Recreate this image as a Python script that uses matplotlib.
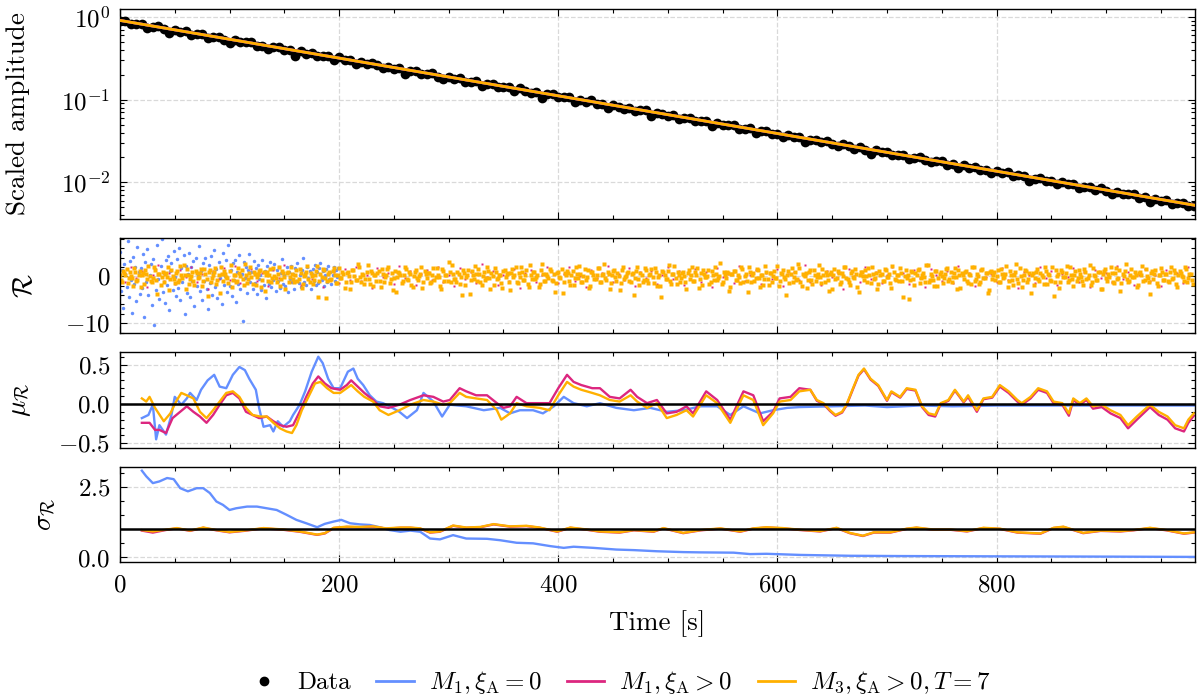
import matplotlib
import numpy as np

matplotlib.use('agg')
import matplotlib.pyplot as plt
from matplotlib.lines import Line2D
from matplotlib.ticker import MultipleLocator

plt.rcParams['font.family'] = 'serif'
plt.rcParams['font.serif'] = ['cmr10']
plt.rcParams['mathtext.fontset'] = 'cm'
plt.rcParams['axes.formatter.use_mathtext'] = True
plt.rcParams['font.size'] = 18
plt.rcParams['axes.labelsize'] = 19.5
plt.rcParams['axes.unicode_minus'] = True

c_blue = '#648FFF'
c_mag = '#DC267F'
c_orange = '#FFB000'

labels = ['Data', r'$M_1, \xi_\mathrm{A}=0$', r'$M_1, \xi_\mathrm{A}>0$',
          r'$M_3, \xi_\mathrm{A}>0, T=7$']

# fitted decay (same for all three models at this scale), read at the ends
fit_t = [0.0, 980.0]
fit_amp = [0.91, 0.0053]

# measured amplitude / fitted amplitude, one value every 5 s
amp_ratio = [
    0.98, 1.02, 0.95, 0.99, 1.01, 0.92, 0.97, 1.03, 0.96, 0.88, 1.00, 0.97, 1.02, 0.94, 0.99, 1.01, 0.93, 0.98, 1.02, 0.96,
    0.90, 1.01, 0.97, 0.99, 1.03, 0.95, 0.98, 0.92, 1.00, 1.02, 0.96, 0.99, 0.87, 1.01, 0.97, 1.02, 0.95, 0.98, 1.00, 0.93,
    1.02, 0.97, 0.99, 0.91, 1.01, 0.96, 1.03, 0.98, 0.94, 1.00, 0.97, 1.02, 0.89, 0.99, 1.01, 0.95, 0.98, 1.03, 0.96, 0.92,
    1.00, 0.98, 1.02, 0.94, 0.97, 1.01, 0.90, 0.99, 1.02, 0.96, 0.98, 1.00, 0.93, 1.03, 0.97, 0.95, 1.01, 0.88, 0.99, 1.02,
    0.96, 0.98, 1.01, 0.92, 1.00, 0.97, 1.03, 0.95, 0.99, 0.91, 1.02, 0.98, 0.96, 1.01, 0.94, 0.99, 1.02, 0.90, 0.98, 1.00,
    0.97, 1.03, 0.93, 0.99, 1.01, 0.96, 0.98, 1.02, 0.89, 1.00, 0.97, 0.99, 1.03, 0.95, 0.98, 1.01, 0.92, 0.99, 1.02, 0.96,
    0.98, 0.94, 1.01, 0.99, 1.02, 0.91, 0.97, 1.00, 0.96, 1.03, 0.98, 0.93, 1.01, 0.99, 0.95, 1.02, 0.97, 0.88, 1.00, 0.98,
    1.02, 0.96, 0.99, 1.01, 0.93, 0.98, 1.03, 0.97, 0.94, 1.00, 1.02, 0.95, 0.99, 0.91, 1.01, 0.97, 1.02, 0.96, 0.98, 0.92,
    1.00, 0.97, 1.02, 0.95, 0.99, 1.01, 0.90, 0.98, 1.03, 0.96, 0.99, 0.94, 1.01, 0.98, 1.02, 0.93, 0.97, 1.00, 0.96, 1.02,
    0.98, 0.92, 1.01, 0.97, 0.99, 1.03, 0.95, 0.98, 0.89, 1.00, 0.97, 1.02, 0.94, 0.99, 1.01, 0.96, 0.98,
]

# normalised residuals, M3 model
res_orange_even = [  # t = 0, 2, 4, ... s
    0.3, -1.2, 0.8, 1.5, -0.4, 0.1, -2.1, 0.9, -0.7, 1.1, 0.2, -1.6, 0.5, 2.2, -0.9, -0.3, 1.4, -3.8, 0.6, -0.1,
    -1.1, 0.7, 1.9, -0.5, 0.0, -1.4, 1.2, -0.8, 0.4, 2.4, -2.6, 0.3, -0.6, 1.0, -1.9, 0.8, -0.2, 1.6, -1.0, 0.5,
    -4.2, 1.3, -0.4, 0.9, -1.7, 0.2, 2.0, -0.9, 0.6, -0.3, 1.1, -2.3, 0.4, -1.2, 1.7, 0.0, -0.6, 2.7, -1.5, 0.8,
    -0.2, 1.0, -1.8, 0.5, 1.4, -0.7, -3.1, 0.9, 0.3, -1.1, 1.8, -0.4, 0.6, -2.0, 1.2, -0.1, 0.7, -1.3, 2.1, -0.5,
    0.4, -0.9, 1.5, -2.4, 0.1, 1.0, -0.6, 0.8, -1.6, 0.3, 2.3, -1.0, -0.2, 1.3, -4.6, 0.5, -0.8, 1.1, 0.2, -1.4,
    1.7, -0.3, 0.6, -1.2, 0.9, -2.8, 1.4, 0.0, -0.7, 1.9, -1.1, 0.4, -0.5, 2.5, -1.7, 0.7, 0.2, -0.9, 1.2, -2.2,
    0.5, -0.1, 1.6, -1.5, 0.8, -0.4, -3.4, 1.0, 0.3, -1.0, 2.0, -0.6, 0.9, -1.8, 0.1, 1.3, -0.8, 0.6, -2.5, 1.1,
    -0.3, 0.7, -1.3, 1.8, -0.2, 0.4, -2.0, 1.5, -0.9, 0.2, 3.1, -1.2, 0.6, -0.5, 1.0, -1.6, -4.0, 0.8, -0.1, 1.4,
    -0.7, 0.3, 2.2, -1.0, 0.5, -1.9, 0.9, -0.4, 1.2, -2.7, 0.0, 1.7, -0.6, 0.4, -1.4, 1.1, -0.2, 0.8, -3.0, 1.5,
    0.2, -1.1, 0.7, 1.9, -0.8, 0.3, -1.7, 2.4, -0.5, 0.9, -0.1, -2.2, 1.3, 0.6, -1.0, 0.1, 1.6, -0.7, 0.5, -1.5,
    1.0, -0.4, -3.6, 0.8, 1.2, -0.9, 0.4, -1.8, 2.0, -0.3, 0.6, -1.2, 1.5, -0.1, -2.4, 0.9, 0.2, -0.6, 1.8, -1.3,
    0.3, 2.6, -0.8, 0.5, -1.5, 1.1, -0.2, 0.7, -2.9, 1.4, -0.6, 0.0, 1.0, -1.1, 0.8, -0.4, 2.1, -1.9, 0.4, -0.7,
    1.3, -1.4, 0.6, -0.1, 1.7, -2.1, 0.2, -4.4, 0.9, -0.5, 1.2, -0.9, 0.5, 2.3, -1.6, 0.3, -0.3, 1.0, -1.2, 0.7,
    -0.6, 1.9, -1.0, 0.4, -2.5, 0.8, 1.4, -0.2, 0.1, -1.7, 1.1, -0.8, 0.6, -0.4, 2.8, -1.3, 0.2, 0.9, -3.2, 0.5,
    1.2, -0.7, 0.3, -1.5, 1.6, 0.0, -0.9, 2.0, -1.1, 0.7, -0.3, 1.3, -2.3, 0.4, -0.6, 1.0, -1.8, 0.8, 0.1, -0.4,
    2.2, -1.0, 0.5, -0.2, -3.9, 1.1, 0.6, -1.3, 0.9, -0.5, 1.7, -2.0, 0.3, 0.8, -0.7, 1.4, -1.6, 0.2, -0.1, 2.5,
    -1.4, 0.4, 1.0, -0.8, 0.6, -2.6, 1.5, -0.3, 0.7, -1.1, 0.1, 1.9, -0.6, -1.9, 1.2, -0.4, 0.5, -3.3, 0.9, 0.0,
    1.3, -1.2, 0.3, 2.1, -0.5, 0.8, -1.7, 0.2, -0.9, 1.6, -0.2, 0.6, -2.4, 1.0, -0.7, 0.4, 1.8, -1.0, 0.1, -0.3,
    -4.8, 1.1, -0.6, 0.7, 1.4, -1.5, 0.3, -0.1, 2.4, -1.3, 0.5, -0.8, 1.2, -2.1, 0.6, 0.0, -0.4, 1.5, -1.0, 0.9,
    -0.2, 1.7, -2.8, 0.4, 0.8, -0.6, 1.1, -1.4, 0.2, 2.0, -0.9, 0.5, -1.7, 1.3, -0.3, 0.7, -3.5, 0.9, -0.5, 1.0,
    0.1, -1.1, 1.6, -0.4, 0.6, -2.2, 1.2, -0.7, 0.3, 2.7, -1.5, 0.0, -0.8, 1.4, -1.2, 0.8, 0.2, -1.9, 1.0, -0.5,
    0.7, -0.2, 1.9, -1.6, 0.4, -0.9, -4.1, 1.3, 0.5, -1.3, 0.9, -0.1, 2.2, -0.7, 0.3, -2.0, 1.1, -0.4, 0.6, -1.0,
    1.5, -0.6, 0.2, -1.8, 1.7, 0.1, -0.8, 0.9, -2.7, 1.2, -0.3, 0.5, 2.0, -1.2, 0.7, -0.5, 1.3, -1.5, 0.0, 2.6,
    -1.1, 0.4, -0.2, 1.0, -2.3, 0.8, 0.3, -0.9, 1.6, -0.4, -3.7, 1.1, 0.6, -1.4, 0.2, 1.8, -0.7, 0.5, -1.0, 0.9,
    -0.5, 1.4, -1.7, 0.3, 0.7, -0.2, 2.1, -1.2, 0.6, -0.8,
]
res_orange_odd = [  # t = 1, 3, 5, ... s
    -0.8, 1.1, 0.2, -1.5, 0.9, -0.3, 1.8, -1.0, 0.4, -2.3, 0.7, 1.3, -0.5, 0.0, -1.2, 2.0, -0.7, 0.6, -1.8, 1.0,
    0.5, -0.2, -2.9, 1.4, -0.6, 0.8, -1.1, 2.2, -0.4, 0.3, 1.6, -1.7, 0.1, -0.9, 1.2, -0.3, 0.7, -2.1, 1.5, -0.6,
    0.9, -1.3, 0.4, 1.7, -0.8, -3.5, 0.6, 1.1, -0.2, -1.4, 2.5, -0.7, 0.3, -1.0, 0.8, 1.3, -1.9, 0.2, -0.5, 1.9,
    -1.6, 0.6, -0.1, 1.2, -2.2, 0.9, 0.4, -0.9, 1.5, -0.4, 0.1, -1.3, 2.1, -0.6, 0.7, -2.7, 1.0, -0.2, 0.5, -1.1,
    1.4, -0.5, 0.8, -1.7, 0.3, 2.3, -1.2, 0.0, -0.8, 1.1, -4.3, 0.6, 1.6, -0.3, -1.0, 0.9, -0.6, 1.8, -1.5, 0.2,
    -0.4, 1.0, -2.4, 0.7, 0.1, -1.1, 1.4, -0.7, 2.6, -0.2, 0.5, -1.6, 0.9, -0.5, 1.2, -2.0, 0.3, 0.8, -0.9, 1.6,
    -1.3, 0.4, 2.0, -0.6, -3.0, 1.1, -0.1, 0.7, -1.4, 0.2, 1.5, -0.8, 0.6, -2.2, 1.0, -0.4, 0.0, 1.9, -1.1, 0.5,
    0.8, -1.5, 0.3, -0.7, 1.7, -0.2, -2.6, 1.2, 0.4, -1.0, 0.9, 2.4, -0.5, -1.3, 0.6, -0.1, 1.3, -1.8, 0.2, -3.8,
    1.1, -0.6, 0.5, 1.6, -1.2, 0.1, -0.8, 2.1, -0.3, 0.7, -1.9, 1.0, -0.4, 0.3, -2.5, 1.4, 0.6, -1.1, 0.8, -0.2,
    1.9, -1.4, -0.1, 0.9, -0.7, 1.3, -2.3, 0.4, 1.0, -0.5, 0.2, -1.6, 2.7, -0.9, 0.6, -0.3, 1.2, -1.0, -3.3, 0.7,
    -0.2, 1.5, -1.1, 0.3, 0.8, -1.8, 1.1, -0.4, 0.5, 2.2, -1.3, 0.0, -0.7, 1.4, -2.0, 0.9, -0.6, 0.2, 1.7, -1.2,
    0.6, -0.3, 1.0, -2.6, 0.4, 1.3, -0.9, 0.1, -1.5, 2.0, -0.2, 0.8, -1.0, 0.5, -4.0, 1.2, -0.5, 0.7, -1.3, 1.8,
    -0.8, 0.3, 1.6, -1.4, 0.9, -0.1, -2.1, 1.1, 0.2, -0.6, 2.4, -1.7, 0.5, -0.3, 1.0, -1.1, 0.7, 0.0, -2.8, 1.3,
    0.4, -1.0, 0.9, 1.7, -0.5, -1.9, 0.6, -0.2, 1.4, -1.2, 0.3, 2.1, -0.8, 0.1, -1.6, 1.0, -0.4, 0.8, -2.3, 0.5,
    1.2, -0.7, -0.1, 1.9, -1.3, 0.6, -3.4, 0.9, 0.4, -0.9, 1.5, -0.3, 0.2, -1.8, 2.3, -0.6, 0.7, -1.1, 1.1, -0.4,
    -2.0, 0.8, 1.3, -0.5, 0.3, -1.5, 1.7, -0.2, -0.8, 2.6, -1.2, 0.5, 0.0, -2.4, 1.0, -0.7, 1.4, -1.0, 0.6, -0.1,
    1.6, -1.1, 0.4, -3.1, 0.9, 0.2, -0.6, 1.2, -1.7, 0.7, 2.0, -0.4, -1.3, 0.8, -0.2, 1.5, -2.2, 0.3, 0.9, -0.8,
    0.1, 1.8, -1.4, 0.6, -0.3, -2.7, 1.1, 0.5, -0.9, 1.4, -0.1, -1.5, 2.2, -0.6, 0.3, -1.0, 0.8, -4.5, 1.3, 0.2,
    -0.7, 1.0, -1.9, 0.4, 1.6, -0.4, 0.7, -1.2, 2.5, -0.8, 0.1, -2.0, 1.2, -0.3, 0.9, -1.4, 0.5, 1.8, -0.6, -1.1,
    0.8, -0.2, 1.4, -2.5, 0.3, 1.0, -0.9, 0.6, -1.6, 2.1, -0.5, 0.0, -1.2, 1.5, -0.4, 0.7, -2.9, 1.1, 0.2, -0.7,
    1.3, -1.3, 0.5, -0.1, 2.3, -1.0, 0.4, -1.8, 0.9, -0.6, 1.7, -2.2, 0.2, 1.1, -0.5, -3.6, 0.8, -0.3, 1.6, -0.9,
    0.3, -1.7, 1.2, 0.6, -0.8, 1.9, -1.1, 0.0, -2.4, 1.4, -0.2, 0.7, -1.3, 2.0, -0.6, 0.4, -1.0, 1.3, -0.1, -1.9,
    0.9, -0.4, 2.4, -1.2, 0.2, -0.7, 1.0, -2.6, 0.5, 1.5, -0.9, -0.1, 0.8, -1.5, 1.8, -0.3, -3.2, 0.6, 1.1, -0.6,
    -1.0, 1.6, -0.2, 0.4, -1.9, 0.9, 2.2, -0.8, 0.1, -1.3, 0.7, -0.5, 1.4, -2.1, 0.3, 1.0, -0.7, 0.5, -1.2, 1.9,
    -0.4, 0.8, -2.3, 1.2, 0.0, -0.9, 1.5, -0.3, 0.6, -1.6,
]
res_blue = [  # every 1 s, first 200 s (later ones hide under the others)
    5.2, -3.1, 1.4, -6.8, 2.7, 0.5, -2.2, 7.6, -4.5, 3.3, -0.8, -7.9, 4.1, -1.6, 2.0, -5.3, 6.2, 0.9, -3.7, 1.8,
    -2.5, 4.8, -8.6, 3.0, -1.1, 5.9, -4.0, 0.4, 2.6, -6.1, 3.8, -10.4, 1.5, -2.9, 6.7, -0.6, -4.8, 2.2, 7.9, -3.4,
    0.8, -5.6, 3.5, -1.9, 4.4, -7.2, 1.1, 2.9, -3.0, 5.5, -0.2, -4.1, 3.7, -2.4, 6.0, -5.0, 1.7, -1.3, 4.6, -8.1,
    2.3, -3.6, 0.6, 5.1, -4.4, 1.9, -1.0, 3.2, -6.3, 4.0, -2.0, 0.3, 6.4, -3.2, 1.2, -5.1, 2.8, -0.9, 3.9, -2.7,
    -6.9, 2.5, -1.5, 4.3, -3.9, 0.7, 5.7, -2.3, 1.6, -4.7, 3.1, -0.4, 2.0, -5.8, 4.9, -1.8, 0.1, 3.4, -3.3, 6.6,
    -2.1, 1.3, -4.2, 2.9, -0.7, 3.6, -5.4, 1.0, -1.7, 4.5, -2.8, 0.5, -9.5, 3.0, -0.3, 2.1, -3.5, 1.4, 4.7, -1.2,
    0.9, -2.6, 3.3, -1.4, 1.8, -3.8, 2.4, -0.6, 0.2, -2.9, 3.5, -1.9, 1.1, -4.6, 2.2, 0.4, -1.6, 3.0, -2.2, 1.5,
    -0.8, 2.6, -3.1, 1.3, -1.0, 2.0, -2.5, 0.7, 3.7, -1.7, 0.3, -2.0, 1.9, -3.4, 1.0, -0.5, 2.3, -1.3, 0.6, -2.7,
    1.7, -0.9, 2.8, -1.5, 0.2, -2.3, 1.4, 3.9, -1.1, 0.8, -1.8, 2.1, -0.4, 1.2, -2.6, 0.5, 1.6, -1.0, 2.5, -1.9,
    0.9, -1.4, 1.8, 2.9, -0.7, 1.1, -2.0, 0.4, 1.5, -1.2, 2.2, -0.6, 1.0, -1.6, 0.3, 2.0, -0.9, 1.3, -0.2, 1.7,
]
res_mag = [  # every 5 s
    0.6, -1.3, 1.9, -0.4, 1.1, -2.2, 0.3, 2.4, -0.9, 0.8, -1.7, 1.4, -0.2, 2.0, -1.1, 0.5, -2.6, 1.2, -0.6, 1.7,
    -0.8, 2.2, -1.5, 0.1, 1.6, -0.9, 0.7, -2.0, 1.3, -0.3, 2.5, -1.2, 0.4, -1.8, 1.0, -0.5, 1.9, -2.3, 0.6, 0.9,
    -1.4, 1.5, -0.7, 2.1, -1.0, 0.2, -2.5, 1.8, -0.1, 0.8, -1.6, 2.3, -0.4, 1.1, -1.9, 0.5, 1.4, -0.8, 2.0, -1.2,
    0.3, -2.1, 1.7, -0.6, 0.9, -1.4, 2.6, -0.2, 1.2, -1.8, 0.4, -0.9, 1.6, -2.4, 0.7, 1.3, -1.1, 0.2, 2.1, -0.7,
    -1.5, 0.6, 1.9, -1.0, 0.1, -2.2, 1.4, -0.3, 0.8, 2.3, -1.3, 0.5, -0.8, 1.7, -2.0, 1.0, -0.4, 1.2, -1.7, 0.3,
    2.0, -0.6, 1.1, -1.9, 0.4, 1.5, -1.2, 0.9, -2.3, 1.8, -0.1, 0.6, -1.4, 2.2, -0.9, 0.2, 1.3, -1.6, 0.7, -0.5,
    1.6, -2.1, 0.5, 1.0, -0.7, 2.4, -1.3, 0.3, -1.8, 1.2, -0.2, 0.8, -2.6, 1.5, 0.0, -1.1, 1.9, -0.6, 0.9, -1.5,
    0.4, 2.1, -1.0, 0.7, -1.7, 1.3, -0.3, -2.2, 1.6, 0.2, -0.9, 1.1, -1.4, 2.3, -0.5, 0.8, -2.0, 1.4, -0.2, 0.6,
    -1.2, 1.8, -0.8, 0.5, -2.4, 1.0, 0.3, -1.5, 2.0, -0.4, 1.2, -1.9, 0.6, -0.1, 1.7, -1.1, 0.9, -2.2, 1.4, -0.3,
    0.7, -1.3, 2.2, -0.6, 1.0, -1.8, 0.4, 1.5, -0.9, 0.2, -2.1, 1.3, -0.5, 0.8, -1.4, 1.9,
]

# rolling mean of the residuals
mu_t_blue = [20, 26, 30, 33, 36, 42, 47, 50, 56, 61, 64, 70, 74, 80, 86, 91, 97, 103, 109, 114,
             118, 124, 127, 131, 137, 140, 144, 149, 155, 158, 164, 169, 175, 181, 185, 190, 195, 201, 208, 213,
             217, 222, 228, 234, 240, 246, 255, 262, 271, 277, 286, 294, 301, 316, 332, 347, 356, 365, 377, 386,
             396, 405, 414, 426, 438, 453, 469, 484, 499, 514, 530, 545, 557, 569, 584, 596, 609, 620, 650, 680,
             700, 730, 760, 800, 850, 900, 950, 980]
mu_blue = [-0.18, -0.14, -0.01, -0.45, -0.27, -0.39, -0.14, 0.09, -0.01, 0.07, 0.14, 0.05, 0.18, 0.30, 0.37, 0.22, 0.20, 0.37, 0.47, 0.43,
           0.32, 0.18, -0.05, -0.29, -0.27, -0.35, -0.22, -0.29, -0.22, -0.14, -0.01, 0.16, 0.41, 0.60, 0.52, 0.32, 0.20, 0.20, 0.41, 0.45,
           0.32, 0.24, 0.11, 0.03, 0.01, -0.03, -0.10, -0.18, -0.08, 0.14, 0.03, -0.16, -0.01, -0.03, -0.08, -0.05, -0.12, -0.08, -0.08, -0.12,
           -0.03, 0.09, 0.01, -0.03, 0.01, -0.05, -0.08, -0.05, -0.10, -0.08, -0.03, -0.03, -0.14, -0.03, -0.12, -0.08, -0.05, -0.04, -0.03, -0.02,
           -0.04, -0.02, -0.03, -0.02, -0.02, -0.02, -0.02, -0.02]

mu_t_mag = [20, 27, 32, 36, 42, 48, 55, 61, 67, 73, 79, 85, 91, 97, 103, 109, 115, 121, 127, 134,
            140, 146, 152, 158, 164, 170, 176, 181, 187, 193, 201, 207, 211, 217, 223, 231, 237, 245, 255, 265,
            277, 286, 295, 301, 310, 316, 325, 335, 344, 350, 356, 362, 371, 383, 392, 400, 408, 414, 421, 431,
            438, 447, 456, 466, 472, 481, 490, 499, 508, 517, 523, 535, 545, 557, 569, 578, 587, 596, 602, 612,
            620, 630, 636, 642, 648, 653, 659, 663, 669, 674, 679, 685, 692, 700, 704, 712, 718, 726, 732, 738,
            744, 749, 756, 762, 770, 774, 782, 788, 796, 803, 811, 819, 823, 831, 838, 846, 852, 860, 866, 870,
            876, 882, 888, 896, 904, 913, 920, 928, 940, 948, 956, 963, 971, 975, 980]
mu_mag = [-0.24, -0.24, -0.33, -0.33, -0.37, -0.18, -0.10, -0.03, -0.10, -0.16, -0.24, -0.14, -0.01, 0.11, 0.14, 0.07, -0.10, -0.14, -0.18, -0.16,
          -0.22, -0.27, -0.29, -0.27, -0.10, 0.09, 0.26, 0.35, 0.26, 0.20, 0.18, 0.24, 0.30, 0.22, 0.14, 0.05, -0.03, -0.05, -0.01, 0.05,
          0.11, 0.09, 0.03, 0.05, 0.20, 0.16, 0.11, 0.11, 0.01, -0.05, -0.03, 0.09, 0.01, 0.01, 0.01, 0.20, 0.37, 0.28, 0.24, 0.20,
          0.20, 0.09, 0.07, 0.18, 0.09, 0.01, 0.05, -0.12, -0.10, -0.03, -0.12, 0.16, 0.05, -0.20, 0.16, 0.11, -0.22, -0.10, 0.07, 0.09,
          0.20, 0.18, 0.04, 0.00, -0.09, -0.15, -0.11, -0.02, 0.19, 0.36, 0.44, 0.31, 0.23, 0.04, 0.15, 0.08, 0.19, 0.17, -0.04, -0.14,
          -0.16, 0.00, 0.04, 0.17, 0.02, 0.09, -0.10, 0.06, 0.08, 0.22, 0.14, 0.03, -0.01, 0.07, 0.18, 0.14, 0.01, -0.01, -0.15, 0.05,
          -0.01, 0.05, -0.06, -0.04, -0.12, -0.18, -0.31, -0.20, -0.04, -0.14, -0.20, -0.31, -0.35, -0.24, -0.15]

mu_t_orange = [20, 24, 27, 32, 40, 46, 52, 56, 61, 67, 73, 79, 85, 91, 97, 103, 109, 115, 121, 128,
               134, 140, 146, 152, 157, 161, 166, 172, 178, 183, 189, 195, 201, 207, 211, 217, 223, 231, 237, 245,
               255, 265, 277, 286, 295, 301, 310, 316, 325, 335, 344, 348, 356, 362, 371, 383, 392, 400, 408, 414,
               421, 431, 438, 447, 456, 466, 472, 481, 490, 499, 508, 517, 523, 535, 545, 557, 569, 578, 587, 596,
               602, 612, 620, 630, 636, 642, 648, 653, 659, 663, 669, 674, 679, 685, 692, 700, 704, 712, 718, 726,
               732, 738, 744, 749, 756, 762, 770, 774, 782, 788, 796, 803, 811, 819, 823, 831, 838, 846, 852, 860,
               866, 870, 876, 882, 888, 896, 904, 913, 920, 928, 940, 948, 956, 963, 971, 975, 980]
mu_orange = [0.07, 0.03, 0.09, -0.05, -0.22, -0.12, 0.05, 0.14, 0.11, 0.07, -0.10, -0.18, -0.08, 0.03, 0.14, 0.16, 0.09, -0.05, -0.14, -0.16,
             -0.16, -0.24, -0.31, -0.35, -0.37, -0.27, -0.08, 0.09, 0.26, 0.28, 0.20, 0.14, 0.14, 0.20, 0.24, 0.16, 0.09, 0.03, -0.08, -0.14,
             -0.08, -0.01, 0.05, 0.03, -0.01, 0.01, 0.14, 0.09, 0.07, 0.05, -0.08, -0.20, -0.12, 0.01, -0.03, -0.05, -0.08, 0.11, 0.28, 0.22,
             0.18, 0.14, 0.11, 0.05, 0.03, 0.11, 0.03, -0.05, 0.01, -0.18, -0.14, -0.08, -0.16, 0.11, 0.01, -0.24, 0.11, 0.05, -0.27, -0.12,
             0.03, 0.05, 0.16, 0.18, 0.05, 0.01, -0.08, -0.14, -0.10, -0.01, 0.20, 0.37, 0.45, 0.32, 0.24, 0.05, 0.16, 0.09, 0.20, 0.18,
             -0.03, -0.12, -0.14, 0.01, 0.05, 0.18, 0.03, 0.11, -0.08, 0.07, 0.09, 0.24, 0.16, 0.05, 0.01, 0.09, 0.20, 0.16, 0.03, 0.01,
             -0.12, 0.07, 0.01, 0.07, -0.03, -0.01, -0.08, -0.14, -0.27, -0.16, -0.01, -0.10, -0.16, -0.27, -0.31, -0.20, -0.12]

# rolling standard deviation of the residuals
sd_t_blue = [20, 24, 30, 36, 43, 49, 55, 62, 70, 76, 82, 88, 94, 100, 106, 116, 125, 134, 143, 152,
             161, 170, 180, 187, 195, 202, 210, 219, 228, 237, 246, 256, 265, 274, 283, 292, 304, 316, 335, 347,
             362, 377, 393, 405, 414, 432, 453, 469, 490, 514, 530, 560, 575, 590, 621, 666, 712, 800, 900, 980]
sd_blue = [3.07, 2.87, 2.63, 2.69, 2.81, 2.77, 2.45, 2.34, 2.45, 2.45, 2.28, 1.98, 1.86, 1.68, 1.74, 1.80, 1.80, 1.74, 1.68, 1.51,
           1.33, 1.21, 1.07, 1.19, 1.27, 1.33, 1.21, 1.17, 1.15, 1.07, 0.97, 0.91, 0.95, 0.91, 0.67, 0.64, 0.79, 0.67, 0.66, 0.61,
           0.52, 0.50, 0.40, 0.34, 0.38, 0.34, 0.28, 0.26, 0.22, 0.19, 0.18, 0.17, 0.12, 0.13, 0.09, 0.06, 0.05, 0.04, 0.03, 0.02]

sd_t_orange = [20, 30, 43, 52, 64, 76, 88, 100, 113, 131, 149, 164, 180, 187, 195, 207, 219, 231, 243, 256,
               265, 274, 283, 292, 304, 316, 329, 341, 356, 371, 383, 399, 411, 426, 438, 456, 469, 487, 496, 514,
               530, 548, 566, 578, 590, 605, 621, 639, 654, 666, 678, 688, 703, 718, 727, 742, 758, 773, 788, 803,
               819, 840, 852, 861, 879, 895, 913, 925, 940, 955, 971, 980]
sd_orange = [0.97, 0.92, 0.99, 1.04, 0.95, 1.06, 0.97, 0.90, 0.95, 1.04, 0.99, 0.92, 0.81, 0.86, 1.05, 1.09, 1.08, 1.10, 1.03, 1.06,
             1.06, 1.03, 0.89, 0.92, 1.13, 1.06, 1.08, 1.18, 1.10, 1.12, 1.06, 0.92, 1.06, 0.99, 0.92, 0.89, 0.97, 0.92, 1.04, 0.87,
             0.97, 1.03, 0.92, 1.03, 1.07, 1.04, 0.98, 0.93, 1.05, 0.87, 0.77, 0.89, 0.89, 1.02, 1.06, 0.99, 0.99, 0.93, 1.05, 1.02,
             0.89, 0.85, 1.05, 1.09, 0.87, 0.95, 0.93, 0.97, 1.05, 0.97, 0.85, 0.89]
sd_mag = [0.95, 0.88, 0.98, 1.03, 0.94, 1.05, 0.96, 0.89, 0.94, 1.03, 0.98, 0.91, 0.80, 0.85, 1.04, 1.08, 1.07, 1.09, 1.02, 1.05,
          1.05, 1.02, 0.88, 0.91, 1.12, 1.05, 1.07, 1.17, 1.09, 1.11, 1.05, 0.91, 1.05, 0.98, 0.91, 0.88, 0.96, 0.91, 1.03, 0.86,
          0.96, 1.02, 0.91, 1.02, 1.06, 1.03, 0.97, 0.92, 1.04, 0.86, 0.76, 0.88, 0.88, 1.01, 1.05, 0.98, 0.98, 0.92, 1.04, 1.01,
          0.88, 0.84, 1.04, 1.08, 0.86, 0.94, 0.92, 0.96, 1.04, 0.96, 0.84, 0.88]

amp_t = np.arange(len(amp_ratio)) * 5.0
amp_data = np.exp(np.interp(amp_t, fit_t, np.log(fit_amp))) * np.array(amp_ratio)
res_t_orange = np.concatenate([np.arange(len(res_orange_even)) * 2.0,
                               np.arange(len(res_orange_odd)) * 2.0 + 1.0])
res_orange = np.concatenate([res_orange_even, res_orange_odd])
res_t_blue = np.arange(len(res_blue)) * 1.0
res_t_mag = np.arange(len(res_mag)) * 5.0


def style_axes(ax):
    ax.tick_params(which='both', direction='in', top=True, right=True, width=0.8)
    ax.tick_params(which='major', length=5)
    ax.tick_params(which='minor', length=2.8)
    ax.tick_params(axis='y', pad=7)
    ax.tick_params(axis='x', pad=9)
    ax.grid(True, which='major', color='0.85', ls='--', lw=0.9)
    ax.set_axisbelow(True)
    for sp in ax.spines.values():
        sp.set_linewidth(1.0)


fig = plt.figure(figsize=(12.02, 6.99), dpi=100)
left, width = 0.0998, 0.8943
ax1 = fig.add_axes([left, 0.6867, width, 0.3004])
ax2 = fig.add_axes([left, 0.5236, width, 0.1359], sharex=ax1)
ax3 = fig.add_axes([left, 0.3591, width, 0.1373], sharex=ax1)
ax4 = fig.add_axes([left, 0.1960, width, 0.1359], sharex=ax1)

# amplitude
ax1.plot(amp_t, amp_data, 'o', color='k', ms=7, mec='none', zorder=2)
ax1.plot(fit_t, fit_amp, color=c_blue, lw=2, zorder=3)
ax1.plot(fit_t, fit_amp, color=c_mag, lw=2, zorder=3)
ax1.plot(fit_t, fit_amp, color=c_orange, lw=2, zorder=3)
ax1.set_yscale('log')
ax1.set_ylim(0.0036, 1.25)
ax1.set_ylabel('Scaled amplitude')

# residuals
ax2.plot(res_t_blue, res_blue, 'o', color=c_blue, ms=2.5, mec='none')
ax2.plot(res_t_mag, res_mag, 's', color=c_mag, ms=1.8, mec='none')
ax2.plot(res_t_orange, res_orange, 's', color=c_orange, ms=3.3, mec='none')
ax2.set_ylim(-12.1, 8.2)
ax2.yaxis.set_major_locator(MultipleLocator(10))
ax2.yaxis.set_minor_locator(MultipleLocator(2))
ax2.set_ylabel(r'$\mathcal{R}$')

# rolling mean
ax3.plot(mu_t_blue, mu_blue, color=c_blue, lw=1.7)
ax3.plot(mu_t_mag, mu_mag, color=c_mag, lw=1.7)
ax3.plot(mu_t_orange, mu_orange, color=c_orange, lw=1.7)
ax3.axhline(0, color='k', lw=1.8, zorder=5)
ax3.set_ylim(-0.56, 0.66)
ax3.yaxis.set_major_locator(MultipleLocator(0.5))
ax3.yaxis.set_minor_locator(MultipleLocator(0.1))
ax3.set_ylabel(r'$\mu_\mathcal{R}$')

# rolling std
ax4.plot(sd_t_blue, sd_blue, color=c_blue, lw=1.7)
ax4.plot(sd_t_orange, sd_mag, color=c_mag, lw=1.7)
ax4.plot(sd_t_orange, sd_orange, color=c_orange, lw=1.7)
ax4.axhline(1, color='k', lw=1.8, zorder=5)
ax4.set_ylim(-0.16, 3.2)
ax4.yaxis.set_major_locator(MultipleLocator(2.5))
ax4.yaxis.set_minor_locator(MultipleLocator(0.5))
ax4.set_ylabel(r'$\sigma_\mathcal{R}$')

ax4.set_xlim(0, 981)
ax4.xaxis.set_major_locator(MultipleLocator(200))
ax4.xaxis.set_minor_locator(MultipleLocator(50))
ax4.set_xlabel('Time [s]', labelpad=10)

for ax in (ax1, ax2, ax3, ax4):
    style_axes(ax)
for ax in (ax1, ax2, ax3):
    ax.tick_params(labelbottom=False)

# y label positions (right edge of the rotated text, axes fraction)
ax1.yaxis.set_label_coords(-0.084, 0.5)
ax2.yaxis.set_label_coords(-0.077, 0.5)
ax3.yaxis.set_label_coords(-0.081, 0.5)
ax4.yaxis.set_label_coords(-0.059, 0.5)

handles = [Line2D([], [], marker='o', ls='none', color='k', ms=6),
           Line2D([], [], color=c_blue, lw=2),
           Line2D([], [], color=c_mag, lw=2),
           Line2D([], [], color=c_orange, lw=2)]
fig.legend(handles, labels, loc='center', bbox_to_anchor=(0.514, 0.023), ncol=4,
           frameon=False, handlelength=1.5, handletextpad=0.6, columnspacing=1.0)

plt.savefig('out.png', dpi=100)
plt.close()
